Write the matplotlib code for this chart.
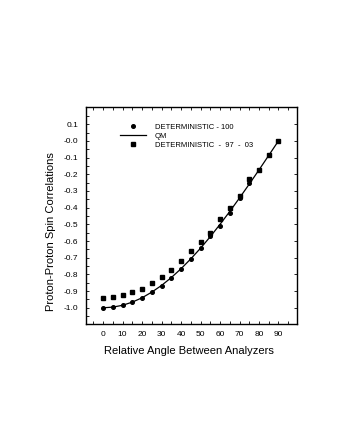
import matplotlib
matplotlib.use("Agg")
import matplotlib.pyplot as plt
from matplotlib.ticker import FixedLocator, FixedFormatter, MultipleLocator

plt.rcParams['font.family'] = ['Liberation Sans', 'DejaVu Sans']

angles = [0, 5, 10, 15, 20, 25, 30, 35, 40, 45, 50, 55, 60, 65, 70, 75, 80, 85, 90]
det_100 = [-1.000, -0.996, -0.985, -0.966, -0.940, -0.903, -0.870, -0.819, -0.766,
           -0.709, -0.640, -0.572, -0.508, -0.430, -0.341, -0.252, -0.174, -0.087, 0.000]
qm = [-1.000, -0.996, -0.985, -0.966, -0.940, -0.906, -0.866, -0.819, -0.766,
      -0.707, -0.643, -0.574, -0.500, -0.423, -0.342, -0.259, -0.174, -0.087, 0.000]
det_97_03 = [-0.940, -0.937, -0.926, -0.906, -0.886, -0.854, -0.816, -0.772, -0.720,
             -0.660, -0.605, -0.550, -0.470, -0.405, -0.329, -0.230, -0.172, -0.086, 0.000]

xticks = [0, 10, 20, 30, 40, 50, 60, 70, 80, 90]
yticks = [0.1, 0.0, -0.1, -0.2, -0.3, -0.4, -0.5, -0.6, -0.7, -0.8, -0.9, -1.0]
ytick_labels = ["0.1", "-0.0", "-0.1", "-0.2", "-0.3", "-0.4", "-0.5", "-0.6",
                "-0.7", "-0.8", "-0.9", "-1.0"]

fig = plt.figure(figsize=(3.58, 4.26), dpi=100)
ax = fig.add_axes([0.239, 0.2383, 0.5906, 0.5094])

ax.plot(angles, det_100, linestyle='none', marker='o', markersize=2.6,
        color='black', label='DETERMINISTIC - 100')
ax.plot(angles, qm, color='black', linewidth=0.9, label='QM')
ax.plot(angles, det_97_03, linestyle='none', marker='s', markersize=3.4,
        color='black', label='DETERMINISTIC  -  97  -  03')

ax.set_xlim(-9, 99.5)
ax.set_ylim(-1.1, 0.2)

ax.xaxis.set_major_locator(FixedLocator(xticks))
ax.xaxis.set_minor_locator(MultipleLocator(5))
ax.yaxis.set_major_locator(FixedLocator(yticks))
ax.yaxis.set_major_formatter(FixedFormatter(ytick_labels))
ax.yaxis.set_minor_locator(MultipleLocator(0.05))

ax.tick_params(axis='both', which='major', direction='in', length=2.5, width=0.6,
               labelsize=6, top=True, right=True)
ax.tick_params(axis='both', which='minor', direction='in', length=2.0, width=0.6,
               top=True, right=False)
ax.tick_params(axis='y', which='major', pad=5)
ax.tick_params(axis='x', which='major', pad=4.5)

for s in ax.spines.values():
    s.set_linewidth(1.0)

ax.set_xlabel('Relative Angle Between Analyzers', fontsize=8.0)
ax.set_ylabel('Proton-Proton Spin Correlations', fontsize=8.0)
ax.xaxis.set_label_coords(0.49, -0.097)
ax.yaxis.set_label_coords(-0.138, 0.426)

ax.legend(loc='upper left', bbox_to_anchor=(0.165, 0.925), frameon=False,
          fontsize=5.5, handlelength=3.4, handletextpad=1.1, labelspacing=0.22,
          borderpad=0, borderaxespad=0, numpoints=1)

fig.savefig('out.png', dpi=100)
